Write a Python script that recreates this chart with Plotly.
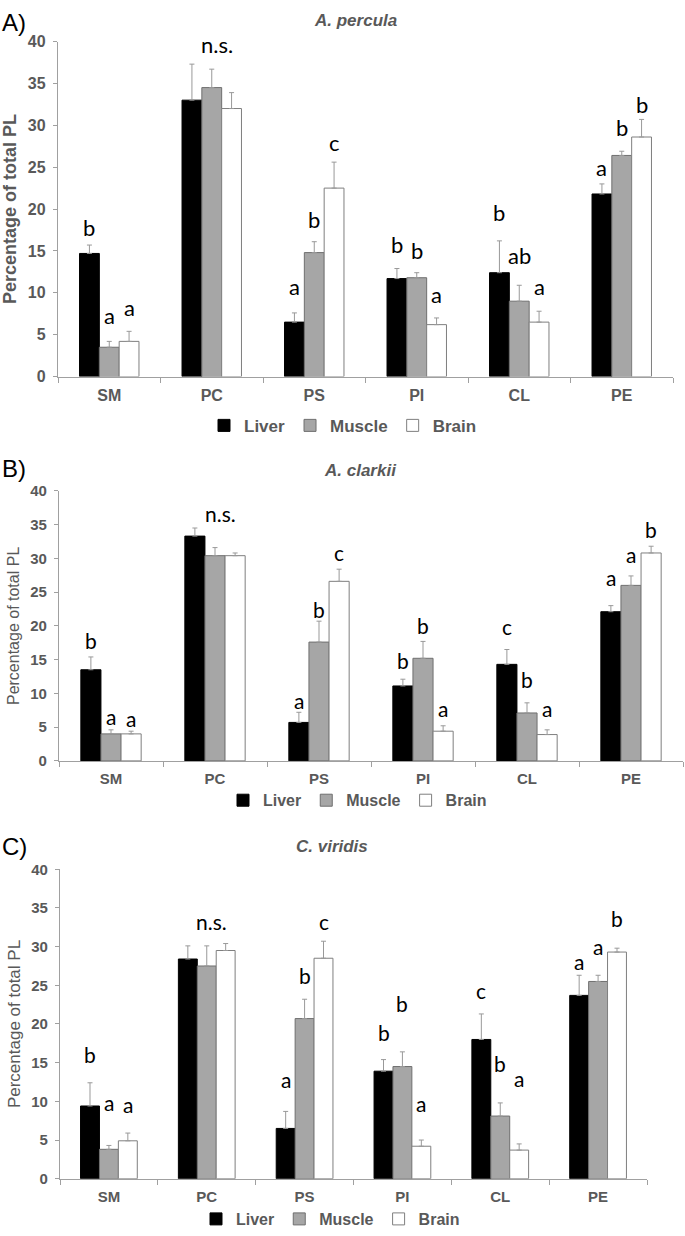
import plotly.graph_objects as go

W, H = 685, 1236

categories = ["SM", "PC", "PS", "PI", "CL", "PE"]
tissues = ["Liver", "Muscle", "Brain"]

# ---- Panel A: A. percula ----
a_liver = [14.7, 33.0, 6.5, 11.7, 12.4, 21.8]
a_liver_se = [1.0, 4.3, 1.1, 1.2, 3.8, 1.2]
a_muscle = [3.5, 34.5, 14.8, 11.8, 9.0, 26.4]
a_muscle_se = [0.7, 2.2, 1.3, 0.6, 1.9, 0.5]
a_brain = [4.2, 32.0, 22.5, 6.2, 6.5, 28.6]
a_brain_se = [1.2, 1.9, 3.1, 0.8, 1.3, 2.1]
a_liver_let = ["b", "", "a", "b", "b", "a"]
a_muscle_let = ["a", "", "b", "b", "ab", "b"]
a_brain_let = ["a", "", "c", "a", "a", "b"]
a_liver_let_y = [17.8, 0, 10.7, 15.8, 19.6, 25.0]
a_muscle_let_y = [7.3, 0, 18.8, 15.1, 14.5, 29.7]
a_brain_let_y = [8.3, 0, 27.9, 9.8, 10.7, 32.5]
a_ns_y = 39.6

# ---- Panel B: A. clarkii ----
b_liver = [13.5, 33.3, 5.7, 11.1, 14.3, 22.1]
b_liver_se = [1.9, 1.2, 1.5, 1.0, 2.2, 0.9]
b_muscle = [4.0, 30.4, 17.6, 15.2, 7.1, 26.0]
b_muscle_se = [0.6, 1.2, 3.1, 2.5, 1.5, 1.4]
b_brain = [4.0, 30.4, 26.6, 4.4, 3.9, 30.8]
b_brain_se = [0.4, 0.4, 1.8, 0.8, 0.7, 1.0]
b_liver_let = ["b", "", "a", "b", "c", "a"]
b_muscle_let = ["a", "", "b", "b", "b", "a"]
b_brain_let = ["a", "", "c", "a", "a", "b"]
b_liver_let_y = [17.9, 0, 9.0, 14.9, 19.9, 27.1]
b_muscle_let_y = [6.6, 0, 22.5, 20.1, 12.1, 30.6]
b_brain_let_y = [6.3, 0, 30.9, 7.8, 7.8, 34.3]
b_ns_y = 36.6

# ---- Panel C: C. viridis ----
c_liver = [9.4, 28.4, 6.5, 13.9, 18.0, 23.7]
c_liver_se = [3.0, 1.7, 2.2, 1.5, 3.3, 2.6]
c_muscle = [3.8, 27.5, 20.7, 14.5, 8.1, 25.5]
c_muscle_se = [0.5, 2.6, 2.5, 1.9, 1.7, 0.8]
c_brain = [4.9, 29.5, 28.5, 4.2, 3.7, 29.3]
c_brain_se = [1.0, 0.9, 2.2, 0.8, 0.8, 0.5]
c_liver_let = ["b", "", "a", "b", "c", "a"]
c_muscle_let = ["a", "", "b", "b", "b", "a"]
c_brain_let = ["a", "", "c", "a", "a", "b"]
c_liver_let_y = [16.0, 0, 12.8, 18.9, 24.3, 28.1]
c_muscle_let_y = [9.8, 0, 26.3, 22.6, 14.9, 30.0]
c_brain_let_y = [9.6, 0, 33.3, 9.7, 13.0, 33.7]
c_ns_y = 33.3

panel_titles = ["A. percula", "A. clarkii", "C. viridis"]
panel_tags = ["A)", "B)", "C)"]
y_title = "Percentage of total PL"

panels = [
    dict(vals=[a_liver, a_muscle, a_brain], se=[a_liver_se, a_muscle_se, a_brain_se],
         lets=[a_liver_let, a_muscle_let, a_brain_let],
         lety=[a_liver_let_y, a_muscle_let_y, a_brain_let_y], ns=a_ns_y,
         xdom=(58, 673), ydom=(33, 373), title_y=12, title_x=355, tag_y=14,
         tick=16, cat=16, ytitle=18, ybold=True, leg=17, leg_x=204, leg_y=423, let=22),
    dict(vals=[b_liver, b_muscle, b_brain], se=[b_liver_se, b_muscle_se, b_brain_se],
         lets=[b_liver_let, b_muscle_let, b_brain_let],
         lety=[b_liver_let_y, b_muscle_let_y, b_brain_let_y], ns=b_ns_y,
         xdom=(59, 683), ydom=(489, 763), title_y=468, title_x=360, tag_y=466,
         tick=15, cat=15, ytitle=16, ybold=False, leg=16, leg_x=223, leg_y=803, let=21),
    dict(vals=[c_liver, c_muscle, c_brain], se=[c_liver_se, c_muscle_se, c_brain_se],
         lets=[c_liver_let, c_muscle_let, c_brain_let],
         lety=[c_liver_let_y, c_muscle_let_y, c_brain_let_y], ns=c_ns_y,
         xdom=(60, 647), ydom=(873, 1187), title_y=850, title_x=332, tag_y=850,
         tick=15, cat=15, ytitle=17, ybold=False, leg=16, leg_x=196, leg_y=1228, let=21),
]

fills = ["#000000", "#a6a6a6", "#ffffff"]
lines = ["#000000", "#6f6f6f", "#7f7f7f"]
BARGAP = 0.42
GRAY = "#595959"
AX = "#a0a0a0"

fig = go.Figure()
annotations = []

for p_i, p in enumerate(panels):
    k = "" if p_i == 0 else str(p_i + 1)
    leg = "legend" if p_i == 0 else "legend" + str(p_i + 1)
    for j in range(3):
        fig.add_trace(go.Bar(
            x=categories, y=p["vals"][j], name=tissues[j],
            xaxis="x" + k, yaxis="y" + k, legend=leg,
            marker=dict(color=fills[j], line=dict(color=lines[j], width=1)),
            error_y=dict(type="data", symmetric=False, array=p["se"][j],
                         arrayminus=[0] * len(categories),
                         color="#999999", thickness=1, width=2.5),
        ))
        # significance letters
        for i, (txt, yv) in enumerate(zip(p["lets"][j], p["lety"][j])):
            if not txt:
                continue
            annotations.append(dict(
                x=i + (j - 1) * (1 - BARGAP) / 3, y=yv, xref="x" + k, yref="y" + k,
                text=txt, showarrow=False, xanchor="center", yanchor="middle",
                font=dict(family="Lato", size=p["let"], color="#000000")))
    annotations.append(dict(
        x=1.05, y=p["ns"], xref="x" + k, yref="y" + k, text="n.s.", showarrow=False,
        xanchor="center", yanchor="middle",
        font=dict(family="Lato", size=p["let"], color="#000000")))
    # panel title
    annotations.append(dict(
        x=p["title_x"] / W, y=1 - p["title_y"] / H, xref="paper", yref="paper",
        text="<b><i>" + panel_titles[p_i] + "</i></b>", showarrow=False,
        xanchor="center", yanchor="middle",
        font=dict(family="Liberation Sans", size=17, color=GRAY)))
    annotations.append(dict(
        x=0.0, y=1 - p["tag_y"] / H, xref="paper", yref="paper",
        text=panel_tags[p_i], showarrow=False, xanchor="left", yanchor="middle",
        font=dict(family="Liberation Sans", size=24, color="#000000")))

    ytitle_txt = "<b>" + y_title + "</b>" if p["ybold"] else y_title
    fig.update_layout(**{
        "xaxis" + k: dict(
            domain=[p["xdom"][0] / W, p["xdom"][1] / W], anchor="y" + k,
            showline=True, linecolor=AX, linewidth=1.3, ticks="outside",
            tickson="boundaries", ticklen=5, tickcolor=AX, showgrid=False,
            tickfont=dict(family="Liberation Sans", size=p["cat"], color=GRAY, weight="bold"),
            ticklabelstandoff=4, fixedrange=True),
        "yaxis" + k: dict(
            domain=[1 - p["ydom"][1] / H, 1 - p["ydom"][0] / H], anchor="x" + k,
            range=[0, 40], dtick=5, showline=True, linecolor=AX, linewidth=1.3,
            ticks="outside", ticklen=4, tickcolor=AX, showgrid=False, zeroline=False,
            tickfont=dict(family="Liberation Sans", size=p["tick"], color=GRAY, weight="bold"),
            ticklabelstandoff=4,
            title=dict(text=ytitle_txt, standoff=6,
                       font=dict(family="Liberation Sans", size=p["ytitle"], color=GRAY))),
        leg: dict(
            orientation="h", x=p["leg_x"] / W, y=1 - p["leg_y"] / H, xanchor="left",
            yanchor="middle", bgcolor="rgba(0,0,0,0)", borderwidth=0,
            font=dict(family="Liberation Sans", size=p["leg"], color=GRAY, weight="bold"),
            itemwidth=30, tracegroupgap=0),
    })

fig.update_layout(
    width=W, height=H, margin=dict(l=0, r=0, t=0, b=0),
    paper_bgcolor="white", plot_bgcolor="white",
    barmode="group", bargap=BARGAP, bargroupgap=0,
    showlegend=True, annotations=annotations,
)

fig.write_html(
    "out.html",
    config={"displayModeBar": False},
    post_script="document.body.style.margin='0';document.body.style.overflow='hidden';",
)
